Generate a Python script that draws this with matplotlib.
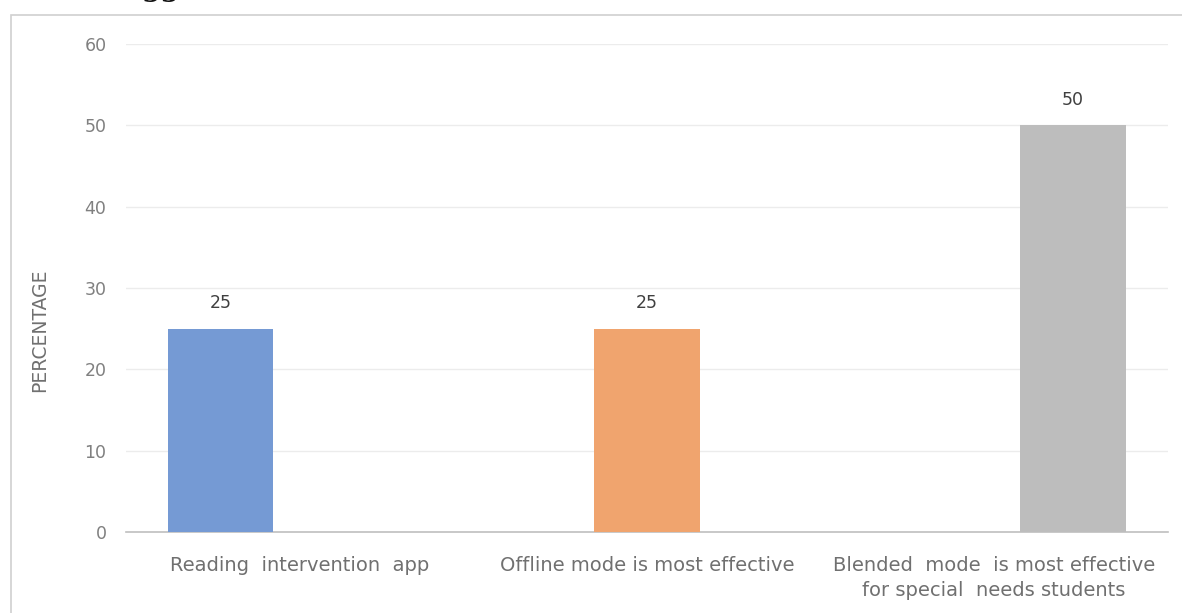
import numpy as np
import matplotlib.pyplot as plt
from matplotlib.patches import Rectangle

# categories and one series per response
categories = ["Reading  intervention  app",
              "Offline mode is most effective",
              "Blended  mode  is most effective\nfor special  needs students"]
reading_app = [25, 0, 0]
offline_mode = [0, 25, 0]
blended_mode = [0, 0, 50]
yticks = [0, 10, 20, 30, 40, 50, 60]

plt.rcParams['font.family'] = ['DejaVu Sans']

fig = plt.figure(figsize=(11.82, 6.13), dpi=100)
ax = fig.add_axes([0.1066, 0.132, 0.8814, 0.796])

x = np.arange(len(categories))
width = 0.303
offset = 0.227
series = [
    (reading_app, -offset, "#759ad4"),
    (offline_mode, 0.0, "#f0a46e"),
    (blended_mode, offset, "#bdbdbd"),
]
for vals, off, col in series:
    bars = ax.bar(x + off, vals, width, color=col, zorder=3)
    for b, v in zip(bars, vals):
        if v:
            ax.annotate(str(v), (b.get_x() + b.get_width() / 2, v),
                        xytext=(0, 12), textcoords="offset points",
                        ha="center", va="bottom", fontsize=12.5, color="#404040")

ax.set_xlim(-0.5, 2.5)
ax.set_ylim(0, 60)
ax.set_yticks(yticks)
ax.set_xticks(x)
ax.set_xticklabels(categories, fontsize=14, color="#707070", linespacing=1.45)
ax.tick_params(axis="y", labelsize=12.5, labelcolor="#808080", length=0, pad=14)
ax.tick_params(axis="x", length=0, pad=17)
ax.yaxis.grid(True, color="#ececec", linewidth=1, zorder=0)
for s in ["top", "right", "left"]:
    ax.spines[s].set_visible(False)
ax.spines["bottom"].set_color("#bfbfbf")
ax.spines["bottom"].set_linewidth(1.2)

fig.text(40 / 1182, 1 - 330 / 613, "PERCENTAGE", rotation=90, fontsize=13.5,
         color="#707070", ha="center", va="center")

# frame around the chart
fig.patches.append(Rectangle((11 / 1182, -0.01), 1.0, 1 - 15 / 613 + 0.01,
                             transform=fig.transFigure, fill=False,
                             edgecolor="#d0d0d0", linewidth=1.2))
# heading text from the page above, cut off at the top edge
fig.text(142 / 1182, 1.0065, "gg", fontsize=20, fontweight="bold",
         family="DejaVu Serif", ha="left", va="baseline", color="#111111")

fig.savefig("out.png", dpi=100)
